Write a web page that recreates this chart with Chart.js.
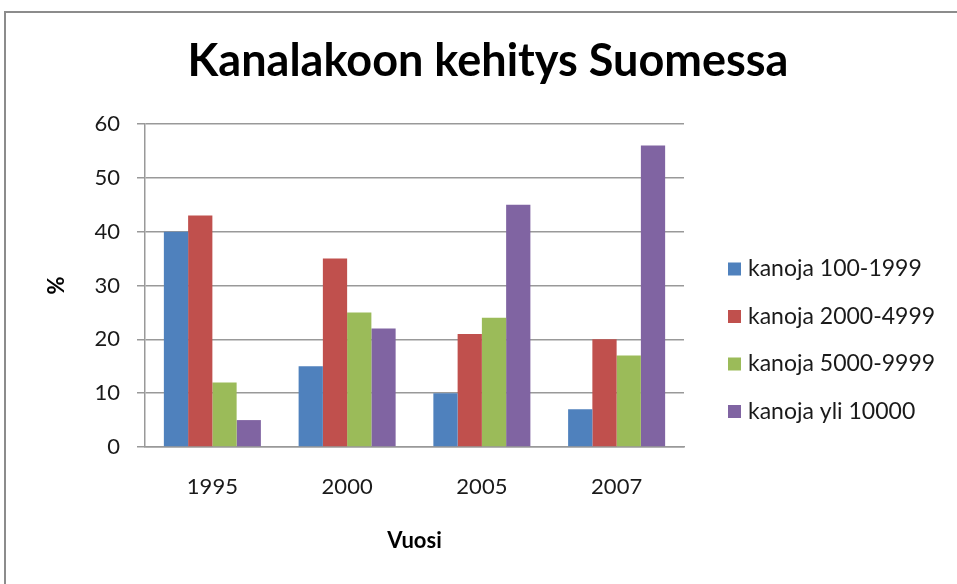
<!DOCTYPE html>
<html>
<head>
<meta charset="utf-8">
<title>Kanalakoon kehitys Suomessa</title>
<script src="https://cdn.jsdelivr.net/npm/chart.js@4"></script>
<style>
    body { margin: 0; background: #fff; overflow: hidden; }
    .frame {
        position: absolute; left: 4px; top: 11px;
        width: 990px; height: 620px;
        border: 2px solid #8c8c8c;
    }
    .wrap { position: absolute; left: 0; top: 0; width: 957px; height: 584px; }
</style>
</head>
<body>
<div class="frame"></div>
<div class="wrap"><canvas id="chickenChart" width="957" height="584"></canvas></div>
<script>
// Data
const years = ['1995', '2000', '2005', '2007'];
const seriesLabels = ['kanoja 100-1999', 'kanoja 2000-4999', 'kanoja 5000-9999', 'kanoja yli 10000'];
const hens100 = [40, 15, 10, 7];
const hens2000 = [43, 35, 21, 20];
const hens5000 = [12, 25, 24, 17];
const hens10000 = [5, 22, 45, 56];
const seriesColors = ['#4F81BD', '#C0504D', '#9BBB59', '#8064A2'];

const FONT = 'Lato';
const gridColor = '#999999';
const textColor = '#1a1a1a';

// Legend on the right, drawn like the Excel one (box + label per series)
const sideLegend = {
    id: 'sideLegend',
    afterDraw(chart) {
        const c = chart.ctx;
        const x = chart.chartArea.right + 44;
        c.save();
        c.font = '23px ' + FONT;
        c.textBaseline = 'middle';
        chart.data.datasets.forEach((ds, i) => {
            const y = 269 + i * 47.5;
            c.fillStyle = ds.backgroundColor;
            c.fillRect(x, y - 6.5, 13, 13);
            c.fillStyle = textColor;
            c.fillText(ds.label, x + 20, y);
        });
        c.restore();
    }
};

const ctx = document.getElementById('chickenChart');

new Chart(ctx, {
    type: 'bar',
    data: {
        labels: years,
        datasets: [hens100, hens2000, hens5000, hens10000].map((values, i) => ({
            label: seriesLabels[i],
            data: values,
            backgroundColor: seriesColors[i],
            categoryPercentage: 0.72,
            barPercentage: 1
        }))
    },
    options: {
        responsive: false,
        animation: false,
        layout: {
            padding: { left: 19, right: 0, top: 0, bottom: 0 }
        },
        plugins: {
            title: {
                display: true,
                text: 'Kanalakoon kehitys Suomessa',
                color: '#000',
                font: { family: FONT, size: 45, weight: 'bold' },
                padding: { top: 34, bottom: 36 }
            },
            legend: { display: false },
            tooltip: { enabled: false }
        },
        scales: {
            x: {
                grid: { display: false, drawTicks: false },
                border: { display: true, color: gridColor, width: 1.5 },
                ticks: { color: textColor, padding: 27, font: { family: FONT, size: 22 } },
                title: {
                    display: true,
                    text: 'Vuosi',
                    color: '#000',
                    font: { family: FONT, size: 22, weight: 'bold' },
                    padding: { top: 0, bottom: 30 }
                },
                afterFit: scale => { scale.height = 137; }
            },
            y: {
                min: 0,
                max: 60,
                ticks: { stepSize: 10, color: textColor, padding: 17, font: { family: FONT, size: 22 } },
                grid: { color: gridColor, lineWidth: 1.5, tickLength: 8 },
                border: { display: true, color: gridColor, width: 1.5 },
                title: {
                    display: true,
                    text: '%',
                    color: '#000',
                    font: { family: FONT, size: 22, weight: 'bold' },
                    padding: { top: 24.8, bottom: 0 }
                },
                afterFit: scale => { scale.width = 126; }
            },
            // empty right-hand axis that keeps room for the legend
            legendSpace: {
                type: 'linear',
                axis: 'y',
                position: 'right',
                grid: { display: false },
                border: { display: false },
                ticks: { display: false },
                afterFit: scale => { scale.width = 273; }
            }
        }
    },
    plugins: [sideLegend]
});
</script>
</body>
</html>
